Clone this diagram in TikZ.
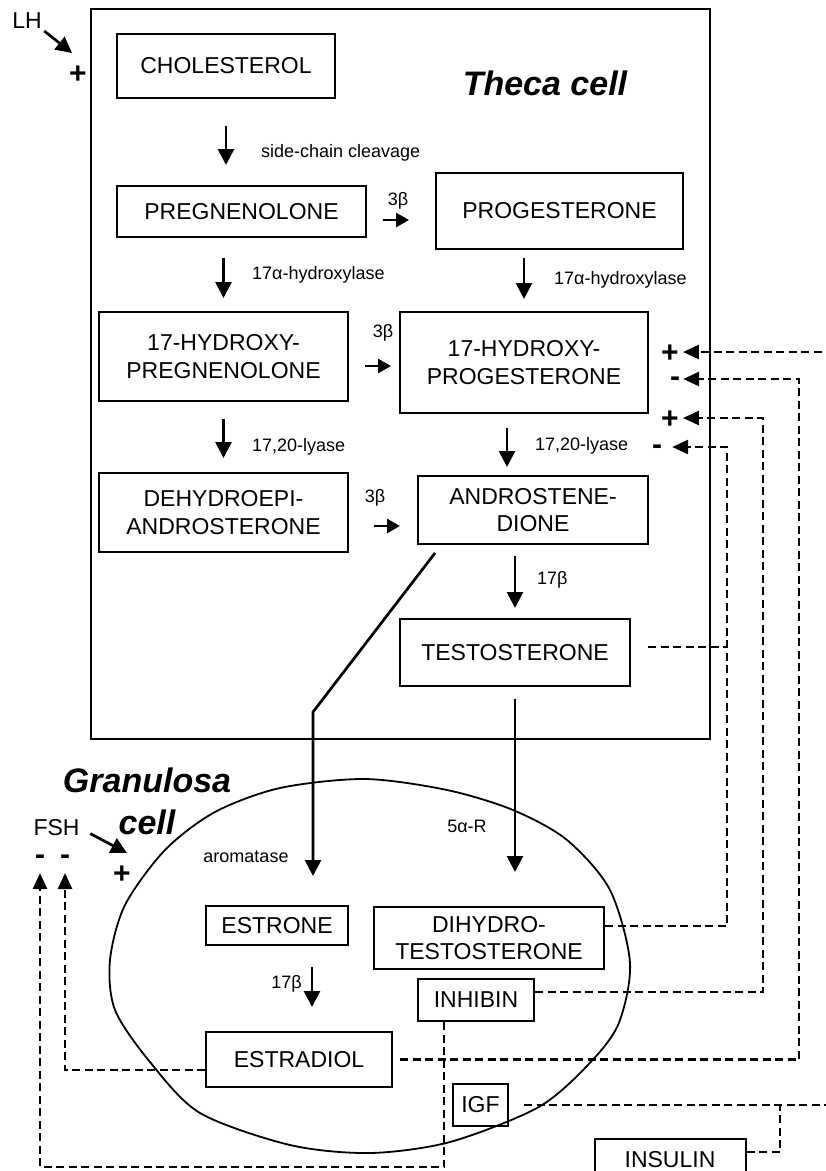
\documentclass[tikz,border=0pt]{standalone}
\usepackage{fontspec}
\setmainfont{Liberation Sans}
\usetikzlibrary{arrows.meta}
\newcommand\boxfont{\fontsize{23}{27.6}\selectfont}
\newcommand\enzfont{\fontsize{18}{21}\selectfont}
\newcommand\cellfont{\fontsize{34}{42}\selectfont\bfseries\itshape}
\newcommand\signfont{\fontsize{30}{30}\selectfont\bfseries}

\begin{document}
\begin{tikzpicture}[x=1pt, y=-1pt, >={Triangle[width=16pt,length=16pt]},
    compound/.style={draw, line width=2pt, align=center, inner sep=0pt, font=\boxfont},
    enzyme/.style={font=\enzfont, inner sep=0pt},
    cellname/.style={font=\cellfont, align=center, inner sep=0pt},
    posign/.style={font=\signfont, inner sep=0pt, text height=21pt, text depth=0pt},
    negsign/.style={font=\signfont, inner sep=0pt, text height=15.6pt, text depth=0pt},
    conv/.style={->, line width=2.7pt},
    small/.style={line width=2.7pt, -{Triangle[width=14pt,length=13pt]}},
    fb/.style={line width=2.7pt, dash pattern=on 8pt off 4.5pt, -{Triangle[width=14pt,length=16pt]}}]
\useasboundingbox (0,0) rectangle (826,1171);

\draw[line width=2pt] (91,9) rectangle (710,739);
\node[cellname] (theca) at (545,83) {Theca cell};
\draw[line width=1.8pt] plot[smooth cycle] coordinates {(365,779) (447,790) (513,810) (567,840)
    (610,890) (630,963) (618,1025) (585,1068) (537,1108) (450,1142) (370,1153) (290,1145)
    (200,1113) (150,1062) (115,1010) (110,960) (125,905) (165,850) (215,812) (280,788)};
\node[cellname] (granulosa) at (147,801) {Granulosa\\cell};

\node[compound, minimum width=218pt, minimum height=64pt] (chol) at (226,66) {CHOLESTEROL};
\node[compound, minimum width=249pt, minimum height=51pt] (preg) at (241.5,211.5) {PREGNENOLONE};
\node[compound, minimum width=247pt, minimum height=76pt] (prog) at (559.5,211) {PROGESTERONE};
\node[compound, minimum width=249pt, minimum height=89pt] (ohpreg) at (223.5,356.5) {17-HYDROXY-\\PREGNENOLONE};
\node[compound, minimum width=248pt, minimum height=101pt] (ohprog) at (524,362.5) {17-HYDROXY-\\PROGESTERONE};
\node[compound, minimum width=249pt, minimum height=79pt] (dhea) at (223.5,512.5) {DEHYDROEPI-\\ANDROSTERONE};
\node[compound, minimum width=230pt, minimum height=68pt] (andro) at (533,510) {ANDROSTENE-\\DIONE};
\node[compound, minimum width=230pt, minimum height=67pt] (testo) at (515,652.5) {TESTOSTERONE};

\node[compound, minimum width=142pt, minimum height=39pt] (estrone) at (277,925.5) {ESTRONE};
\node[compound, minimum width=186pt, minimum height=55pt] (estradiol) at (299,1059.5) {ESTRADIOL};
\node[compound, minimum width=230pt, minimum height=62pt] (dht) at (489,938) {DIHYDRO-\\TESTOSTERONE};
\node[compound, minimum width=116pt, minimum height=42pt] (inhibin) at (476,1000) {INHIBIN};
\node[compound, minimum width=55pt, minimum height=42pt] (igf) at (480.5,1105) {IGF};
\node[compound, minimum width=151pt, minimum height=42pt] (insulin) at (670,1160) {INSULIN};

\node[enzyme, anchor=west] (scc) at (261,153) {side-chain cleavage};
\node[enzyme, anchor=west] (hydA) at (252,275) {17α-hydroxylase};
\node[enzyme, anchor=west] (hydB) at (554,280) {17α-hydroxylase};
\node[enzyme] (hsdA) at (398,201) {3β};
\node[enzyme] (hsdB) at (383,333) {3β};
\node[enzyme] (hsdC) at (375,498) {3β};
\node[enzyme, anchor=west] (lyaseA) at (252,447) {17,20-lyase};
\node[enzyme, anchor=west] (lyaseB) at (535,446) {17,20-lyase};
\node[enzyme, anchor=west] (hsdD) at (537,580) {17β};
\node[enzyme, anchor=east] (hsdE) at (302,984) {17β};
\node[enzyme] (red) at (467,826) {5α-R};
\node[enzyme] (arom) at (246,857) {aromatase};

\node[font=\boxfont, inner sep=0pt] (lh) at (27,21) {LH};
\node[posign] (lhplus) at (78,73) {+};
\node[font=\boxfont, inner sep=0pt] (fsh) at (56.5,828) {FSH};
\node[posign] (fshplus) at (122,873) {+};
\node[negsign] (fshminA) at (40,857) {-};
\node[negsign] (fshminB) at (65,857) {-};
\node[posign] (plusA) at (670,352) {+};
\node[negsign] (minA) at (675,379) {-};
\node[posign] (plusB) at (670,418) {+};
\node[negsign] (minB) at (657,447) {-};

\coordinate (lhtip) at (72,53);
\coordinate (fshtip) at (127,853);
\coordinate (lyaseR) at ([xshift=-17pt]ohprog.south);
\coordinate (pregR) at ([yshift=-8.5pt]preg.east);
\coordinate (ohpregR) at ([yshift=-9.5pt]ohpreg.east);
\coordinate (dheaR) at ([yshift=-13.5pt]dhea.east);
\coordinate (aromK) at (313,712);
\coordinate (estrR) at ([xshift=35pt]estrone.south);
\coordinate (colE) at (799,0);
\coordinate (colI) at (763,0);
\coordinate (colD) at (727,0);
\coordinate (colG) at (840,0);
\coordinate (colIns) at (780,0);
\coordinate (lowrow) at (0,1167);

\draw[conv, shorten <=3pt] (lh.south east) -- (lhtip);
\draw[conv, shorten <=12pt] (fsh.east) -- (fshtip);

\draw[conv, shorten <=27pt, shorten >=20pt] (chol) -- (chol |- preg.north);
\draw[conv, shorten <=20pt, shorten >=13pt] (ohpreg |- preg.south) -- (ohpreg);
\draw[conv, shorten <=8pt, shorten >=12pt] (ohprog |- prog.south) -- (ohprog);
\draw[conv, shorten <=17pt, shorten >=14pt] (ohpreg) -- (ohpreg |- dhea.north);
\draw[conv, shorten <=14pt, shorten >=8pt] (lyaseR) -- (lyaseR |- andro.north);
\draw[conv, shorten <=11pt, shorten >=10pt] (testo |- andro.south) -- (testo);
\draw[small, shorten <=16pt, shorten >=26pt] (pregR) -- (pregR -| prog.west);
\draw[small, shorten <=16pt, shorten >=8pt] (ohpregR) -- (ohpregR -| ohprog.west);
\draw[small, shorten <=25pt, shorten >=17pt] (dheaR) -- (dheaR -| andro.west);
\draw[conv, shorten <=12pt, shorten >=34pt] (testo) -- (testo |- dht.north);
\draw[conv, shorten >=29pt] ([xshift=18pt,yshift=-8pt]andro.south west) -- (aromK) -- (aromK |- estrone.north);
\draw[conv, shorten <=21pt, shorten >=24pt] (estrR) -- (estrR |- estradiol.north);

\draw[fb, shorten <=7pt, shorten >=3pt] (estradiol.east) -| (colE |- minA) -- (minA);
\draw[fb, shorten >=4pt] ([yshift=8pt]inhibin.east) -| (colI |- plusB) -- (plusB);
\draw[fb, shorten >=10pt] ([yshift=12pt]dht.east) -| (colD |- minB) -- (minB);
\draw[fb, -, shorten <=17pt] ([yshift=5.5pt]testo.east) -- ([yshift=5.5pt]testo.east -| colD);
\draw[fb, shorten <=15pt, shorten >=4pt] (igf.east) -| (colG |- plusA) -- (plusA);
\draw[fb, -] ([yshift=8pt]insulin.east) -| (colIns |- igf);
\draw[fb, shorten >=8pt] ([yshift=-10.5pt]estradiol.west) -| (fshminB);
\draw[fb, shorten >=8pt] ([xshift=-32pt]inhibin.south) |- (fshminA |- lowrow) -- (fshminA);

\end{tikzpicture}
\end{document}
